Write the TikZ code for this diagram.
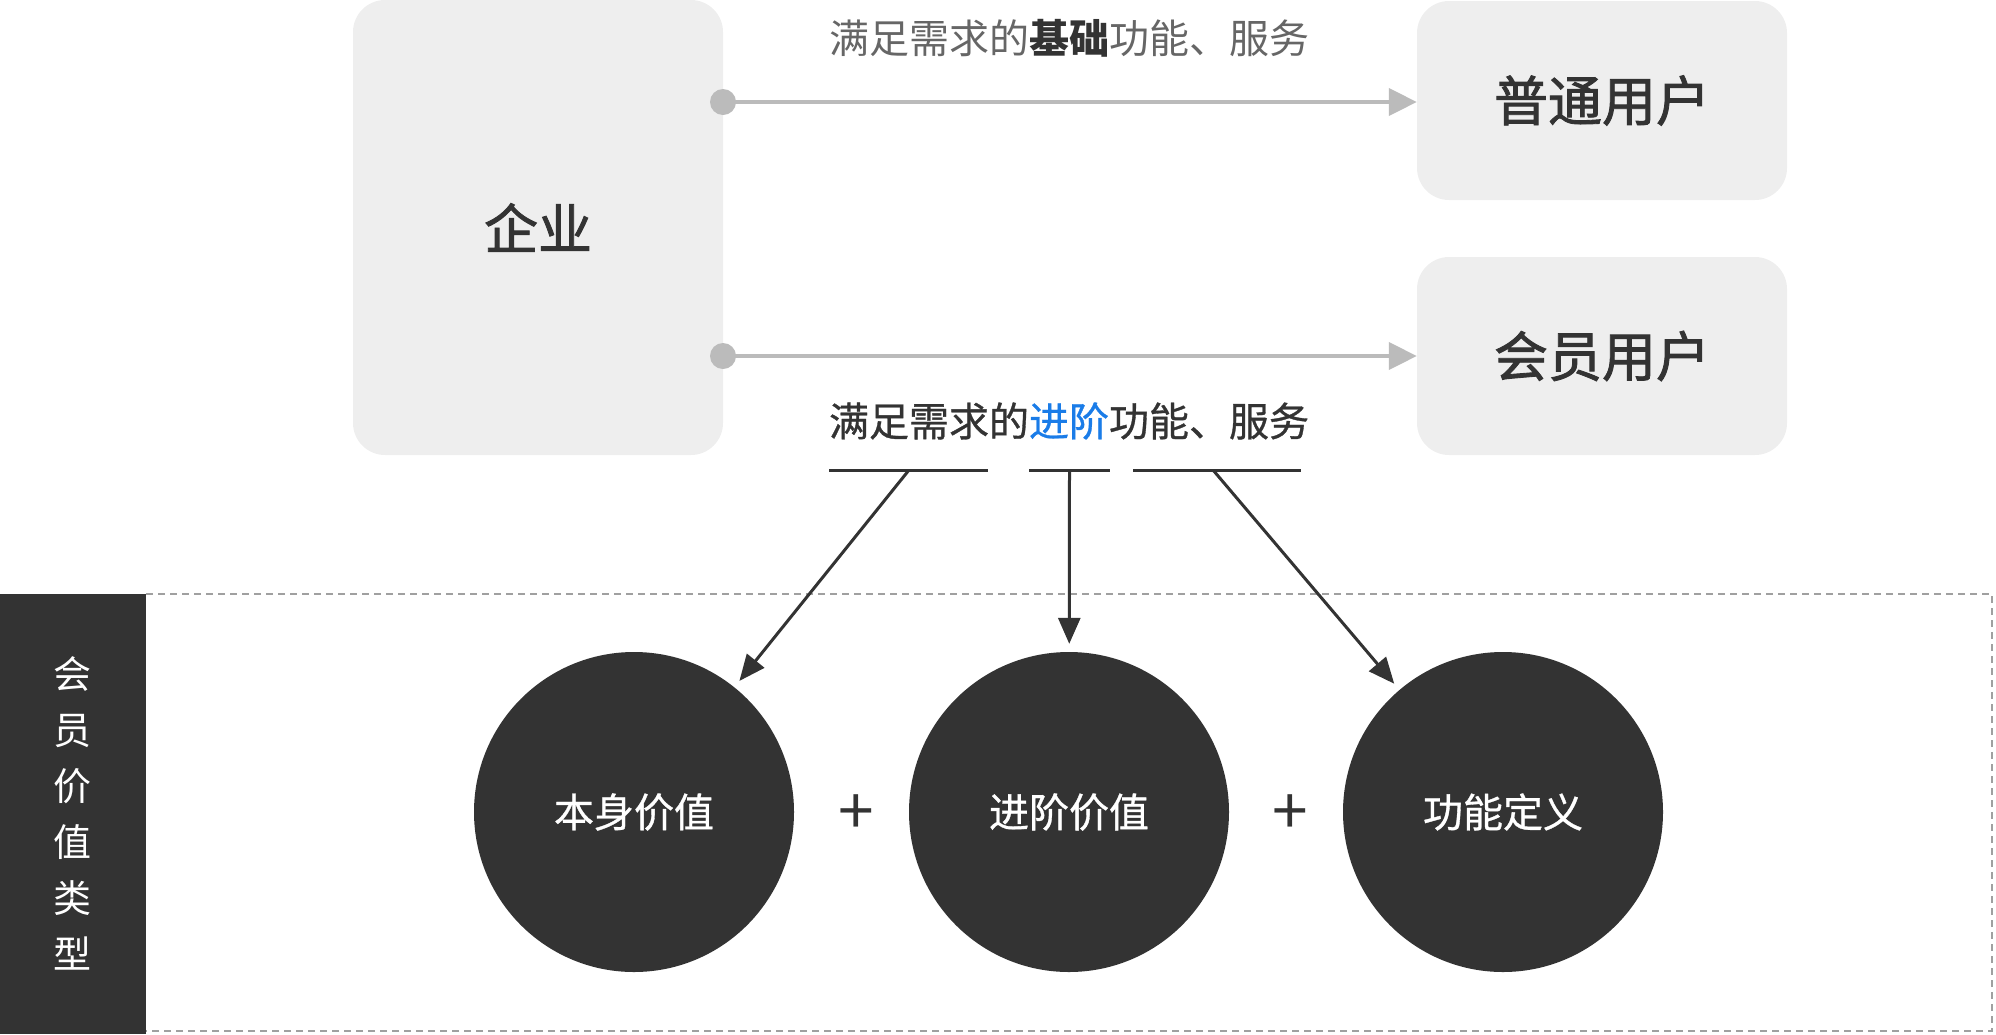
\documentclass[tikz,border=0pt]{standalone}
\usepackage{fontspec}
\setmainfont{Noto Sans CJK SC}
\newfontfamily\cjkheavy{Noto Sans CJK SC}[FakeBold=1.6]
\newfontfamily\cjkmid{Noto Sans CJK SC}[FakeBold=0.8]
\usetikzlibrary{arrows.meta}
\definecolor{boxgray}{HTML}{EEEEEE}
\definecolor{darkc}{HTML}{333333}
\definecolor{linegray}{HTML}{BBBBBB}
\definecolor{txtgray}{HTML}{666666}
\definecolor{blueacc}{HTML}{1A7CE8}
\definecolor{dashgray}{HTML}{A0A0A0}
\begin{document}
\begin{tikzpicture}[x=1pt,y=-1pt,
  card/.style={fill=boxgray, rounded corners=32pt, inner sep=0pt, text=darkc,
    font=\cjkheavy\fontsize{54}{60}\selectfont},
  lbl/.style={inner sep=0pt, font=\fontsize{40}{48}\selectfont},
  valuecircle/.style={circle, fill=darkc, minimum size=320pt, inner sep=0pt, text=white,
    font=\cjkmid\fontsize{40}{48}\selectfont},
  grayarrow/.style={draw=linegray, line width=4pt, -{Triangle[length=28pt,width=27pt]}},
  darkarrow/.style={draw=darkc, line width=3pt, -{Triangle[length=26pt,width=22pt]}, shorten >=8pt},
  uline/.style={draw=darkc, line width=3pt},
  plussign/.style={inner sep=0pt, text=darkc, font=\fontsize{64}{64}\selectfont}
]
\useasboundingbox (0,0) rectangle (1996,1034);

% panel
\node[fill=darkc, minimum width=146pt, minimum height=440pt, inner sep=0pt, anchor=north west] (side) at (0,594) {};
\draw[dashgray, line width=1.5pt, dash pattern=on 7pt off 5pt] (146,594) -- (1992,594) -- (1992,1031) -- (146,1031);
\node[text=white, align=center, inner sep=0pt, font=\fontsize{38}{56}\selectfont] (sidetxt) at (72,813) {会\\员\\价\\值\\类\\型};

% cards
\node[card, minimum width=370pt, minimum height=455pt] (qiye) at (538,227.5) {企业};
\node[card, minimum width=370pt, minimum height=199pt] (putong) at (1602,100.5) {普通用户};
\node[card, minimum width=370pt, minimum height=198pt] (huiyuan) at (1602,356) {会员用户};

% labels
\node[lbl, text=txtgray] (basic) at (1069,38) {满足需求的\textcolor{darkc}{\textbf{基础}}功能、服务};
\node[lbl, text=darkc, font=\cjkmid\fontsize{40}{48}\selectfont] (adv) at (1069,421) {满足需求的\textcolor{blueacc}{进阶}功能、服务};

% gray arrows
\coordinate (s1) at (723,102);
\coordinate (s2) at (723,356);
\fill[linegray] (s1) circle (13pt);
\fill[linegray] (s2) circle (13pt);
\draw[grayarrow] (s1) -- (putong.west |- s1);
\draw[grayarrow] (s2) -- (huiyuan.west |- s2);

% underlines
\coordinate (u1a) at (829,470); \coordinate (u1b) at (988,470);
\coordinate (u2a) at (1029,470); \coordinate (u2b) at (1110,470);
\coordinate (u3a) at (1133,470); \coordinate (u3b) at (1301,470);
\draw[uline] (u1a) -- (u1b);
\draw[uline] (u2a) -- (u2b);
\draw[uline] (u3a) -- (u3b);
\coordinate (m1) at (909,470);
\coordinate (m2) at (1069.5,470);
\coordinate (m3) at (1213,470);

% circles
\node[valuecircle] (c1) at (634,812) {本身价值};
\node[valuecircle] (c2) at (1069,812) {进阶价值};
\node[valuecircle] (c3) at (1503,812) {功能定义};

\node[plussign] (p1) at (856,815) {+};
\node[plussign] (p2) at (1290,815) {+};

\draw[darkarrow] (m1) -- (c1);
\draw[darkarrow] (m2) -- (c2);
\draw[darkarrow] (m3) -- (c3);
\end{tikzpicture}
\end{document}
